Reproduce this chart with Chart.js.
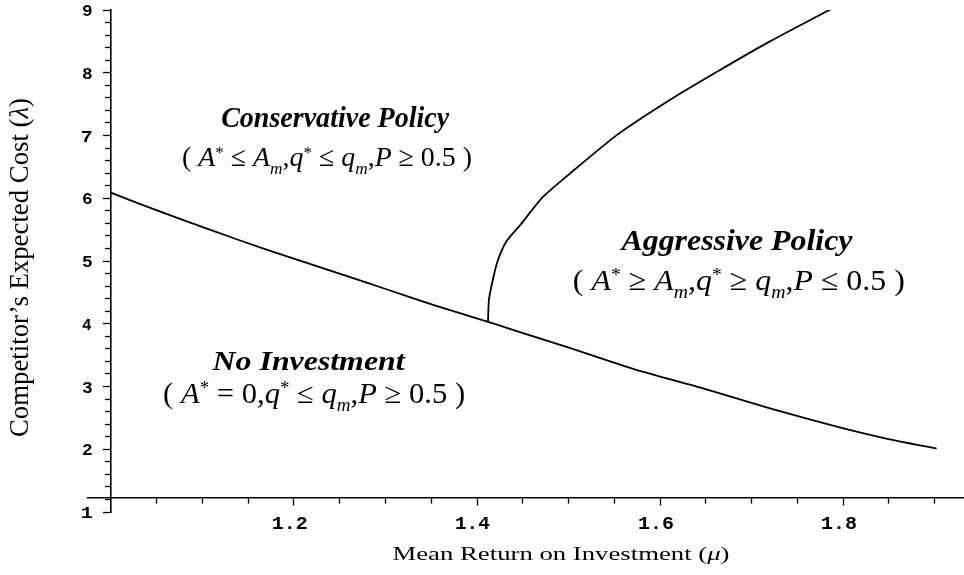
<!DOCTYPE html>
<html lang="en">
  <head>
    <title>Investment policy regions</title>
    <meta charset="utf-8">
    <script src="https://cdn.jsdelivr.net/npm/chart.js@4.4.1/dist/chart.umd.min.js"></script>
    <style>
      html, body { margin: 0; padding: 0; background: #fff; }
      #wrap { width: 964px; height: 575px; }
    </style>
  </head>
  <body>
    <div id="wrap"><canvas id="chart_regions"></canvas></div>

    <script>
      // boundary: no investment (below) / investing (above)
      const lowerMu     = [1.000, 1.046, 1.108, 1.170, 1.258, 1.301, 1.352, 1.412, 1.440, 1.502, 1.575, 1.647, 1.720, 1.793, 1.847, 1.902];
      const lowerLambda = [6.09, 5.83, 5.50, 5.18, 4.76, 4.55, 4.30, 4.03, 3.90, 3.61, 3.26, 2.97, 2.65, 2.36, 2.17, 2.01];

      // boundary: conservative (left) / aggressive (right)
      const upperMu     = [1.412, 1.413, 1.418, 1.423, 1.432, 1.447, 1.472, 1.502, 1.553, 1.611, 1.665, 1.720, 1.786];
      const upperLambda = [4.03, 4.38, 4.75, 5.02, 5.31, 5.57, 6.02, 6.40, 7.01, 7.57, 8.04, 8.50, 9.01];

      // ticks
      const xMajor = [1.2, 1.4, 1.6, 1.8];
      const xTickValues = [1.05, 1.1, 1.15, 1.2, 1.25, 1.3, 1.35, 1.4, 1.45, 1.5, 1.55, 1.6, 1.65, 1.7, 1.75, 1.8, 1.85, 1.9];
      const yMajor = [1, 2, 3, 4, 5, 6, 7, 8, 9];
      const yMinorPerMajor = 4;

      let yTickValues = [];
      yMajor.forEach((v, i) => {
        yTickValues.push(v);
        if (i < yMajor.length - 1)
          for (let k = 1; k <= yMinorPerMajor; k++) yTickValues.push(v + k / (yMinorPerMajor + 1));
      });

      // little helpers for the formula text runs
      const up  = t => ({ t: t });
      const it  = t => ({ t: t, i: true });
      const sup = t => ({ t: t, s: 0.62, dy: 0.30 });
      const sub = t => ({ t: t, i: true, s: 0.62, dy: -0.28 });

      // region labels, anchored in data coordinates (baseline centre)
      const notes = [
        { mu: 1.245, lambda: 7.135, size: 29, width: 228, runs: [{ t: 'Conservative Policy', b: true, i: true }] },
        { mu: 1.236, lambda: 6.514, size: 28, width: 290,
          runs: [up('( '), it('A'), sup('*'), up(' \u2264 '), it('A'), sub('m'), up(','), it('q'), sup('*'), up(' \u2264 '), it('q'), sub('m'), up(','), it('P'), up(' \u2265 '), up('0.5'), up(' )')] },
        { mu: 1.684, lambda: 5.175, size: 29, width: 231, runs: [{ t: 'Aggressive Policy', b: true, i: true }] },
        { mu: 1.686, lambda: 4.538, size: 30, width: 332,
          runs: [up('( '), it('A'), sup('*'), up(' \u2265 '), it('A'), sub('m'), up(','), it('q'), sup('*'), up(' \u2265 '), it('q'), sub('m'), up(','), it('P'), up(' \u2264 '), up('0.5'), up(' )')] },
        { mu: 1.216, lambda: 3.263, size: 28, width: 192, runs: [{ t: 'No Investment', b: true, i: true }] },
        { mu: 1.222, lambda: 2.737, size: 29, width: 302,
          runs: [up('( '), it('A'), sup('*'), up(' = '), up('0,'), it('q'), sup('*'), up(' \u2264 '), it('q'), sub('m'), up(','), it('P'), up(' \u2265 '), up('0.5'), up(' )')] }
      ];

      const SERIF = '"Liberation Serif", "Times New Roman", serif';
      const MONO = '"Liberation Mono", "Courier New", monospace';

      function runFont(r, size) {
        return (r.i ? 'italic ' : '') + (r.b ? 'bold ' : '') + (size * (r.s || 1)).toFixed(1) + 'px ' + SERIF;
      }

      // draw runs centred at (cx, by), squeezed/stretched to the given width
      function drawRuns(ctx, runs, size, cx, by, width) {
        let total = 0;
        runs.forEach(r => { ctx.font = runFont(r, size); r.w = ctx.measureText(r.t).width; total += r.w; });
        ctx.save();
        ctx.translate(cx - width / 2, by);
        ctx.scale(width / total, 1);
        ctx.textAlign = 'left';
        ctx.textBaseline = 'alphabetic';
        let xx = 0;
        runs.forEach(r => {
          ctx.font = runFont(r, size);
          ctx.fillText(r.t, xx, -(r.dy || 0) * size);
          xx += r.w;
        });
        ctx.restore();
      }

      // single string, ink box centred at cx and fitted to width
      function fitText(ctx, text, font, cx, by, width) {
        ctx.save();
        ctx.font = font;
        ctx.textAlign = 'left';
        ctx.textBaseline = 'alphabetic';
        const m = ctx.measureText(text);
        const ink = m.actualBoundingBoxLeft + m.actualBoundingBoxRight;
        ctx.translate(cx, by);
        ctx.scale(width / ink, 1);
        ctx.fillText(text, -(m.actualBoundingBoxRight - m.actualBoundingBoxLeft) / 2, 0);
        ctx.restore();
      }

      const textPlugin = {
        id: 'texts',
        afterDraw(chart) {
          const ctx = chart.ctx;
          const xs = chart.scales.x, ys = chart.scales.y;
          const xAxisPx = ys.getPixelForValue(1.22);
          const yAxisPx = xs.getPixelForValue(1.0);
          ctx.save();
          ctx.fillStyle = '#000';

          // tick labels
          xMajor.forEach(v => fitText(ctx, v.toFixed(1), 'bold 18px ' + MONO, xs.getPixelForValue(v) - 4, xAxisPx + 31, 34));
          yMajor.forEach(v => fitText(ctx, String(v), 'bold 16px ' + MONO, yAxisPx - 24, ys.getPixelForValue(v) + 6, 10));

          // axis titles
          drawRuns(ctx, [up('Mean Return on Investment ('), it('\u03bc'), up(')')], 19, 561, 560, 337);
          ctx.save();
          ctx.translate(28, 267.5);
          ctx.rotate(-Math.PI / 2);
          drawRuns(ctx, [up('Competitor\u2019s Expected Cost ('), it('\u03bb'), up(')')], 27, 0, 0, 339);
          ctx.restore();

          // region labels
          notes.forEach(n => drawRuns(ctx, n.runs, n.size, xs.getPixelForValue(n.mu), ys.getPixelForValue(n.lambda), n.width));
          ctx.restore();
        }
      };

      const lowerPts = lowerMu.map((m, i) => ({ x: m, y: lowerLambda[i] }));
      const upperPts = upperMu.map((m, i) => ({ x: m, y: upperLambda[i] }));

      chart_regions = new Chart('chart_regions', {
        type: 'scatter',
        data: {
          datasets: [
            { data: lowerPts, showLine: true, borderColor: '#000', borderWidth: 1.8, pointRadius: 0, tension: 0.2 },
            { data: upperPts, showLine: true, borderColor: '#000', borderWidth: 1.8, pointRadius: 0, tension: 0.2 }
          ]
        },
        options: {
          responsive: true,
          maintainAspectRatio: false,
          animation: false,
          layout: { padding: { left: 88, right: 0, top: 10, bottom: 63 } },
          plugins: { legend: { display: false }, tooltip: { enabled: false } },
          scales: {
            x: {
              type: 'linear',
              min: 0.975,
              max: 1.932,
              position: { y: 1.22 },
              afterFit: s => { s.height = 0; },
              afterBuildTicks: s => { s.ticks = xTickValues.map(v => ({ value: v })); },
              ticks: { display: false },
              grid: {
                drawOnChartArea: false,
                drawTicks: true,
                tickLength: 7,
                tickColor: '#000',
                tickWidth: 1.3,
                tickBorderDash: c => (xMajor.some(v => Math.abs(v - c.tick.value) < 1e-6) ? [] : [5, 50])
              },
              border: { display: true, color: '#000', width: 1.6 }
            },
            y: {
              type: 'linear',
              min: 1,
              max: 9,
              position: { x: 1.0 },
              afterFit: s => { s.width = 0; },
              afterBuildTicks: s => { s.ticks = yTickValues.map(v => ({ value: v })); },
              ticks: { display: false },
              grid: {
                drawOnChartArea: false,
                drawTicks: true,
                tickLength: 7,
                tickColor: '#000',
                tickWidth: 1.3,
                tickBorderDash: c => (yMajor.some(v => Math.abs(v - c.tick.value) < 1e-6) ? [] : [5, 50])
              },
              border: { display: true, color: '#000', width: 1.6 }
            }
          }
        },
        plugins: [textPlugin]
      });
    </script>
  </body>
</html>
